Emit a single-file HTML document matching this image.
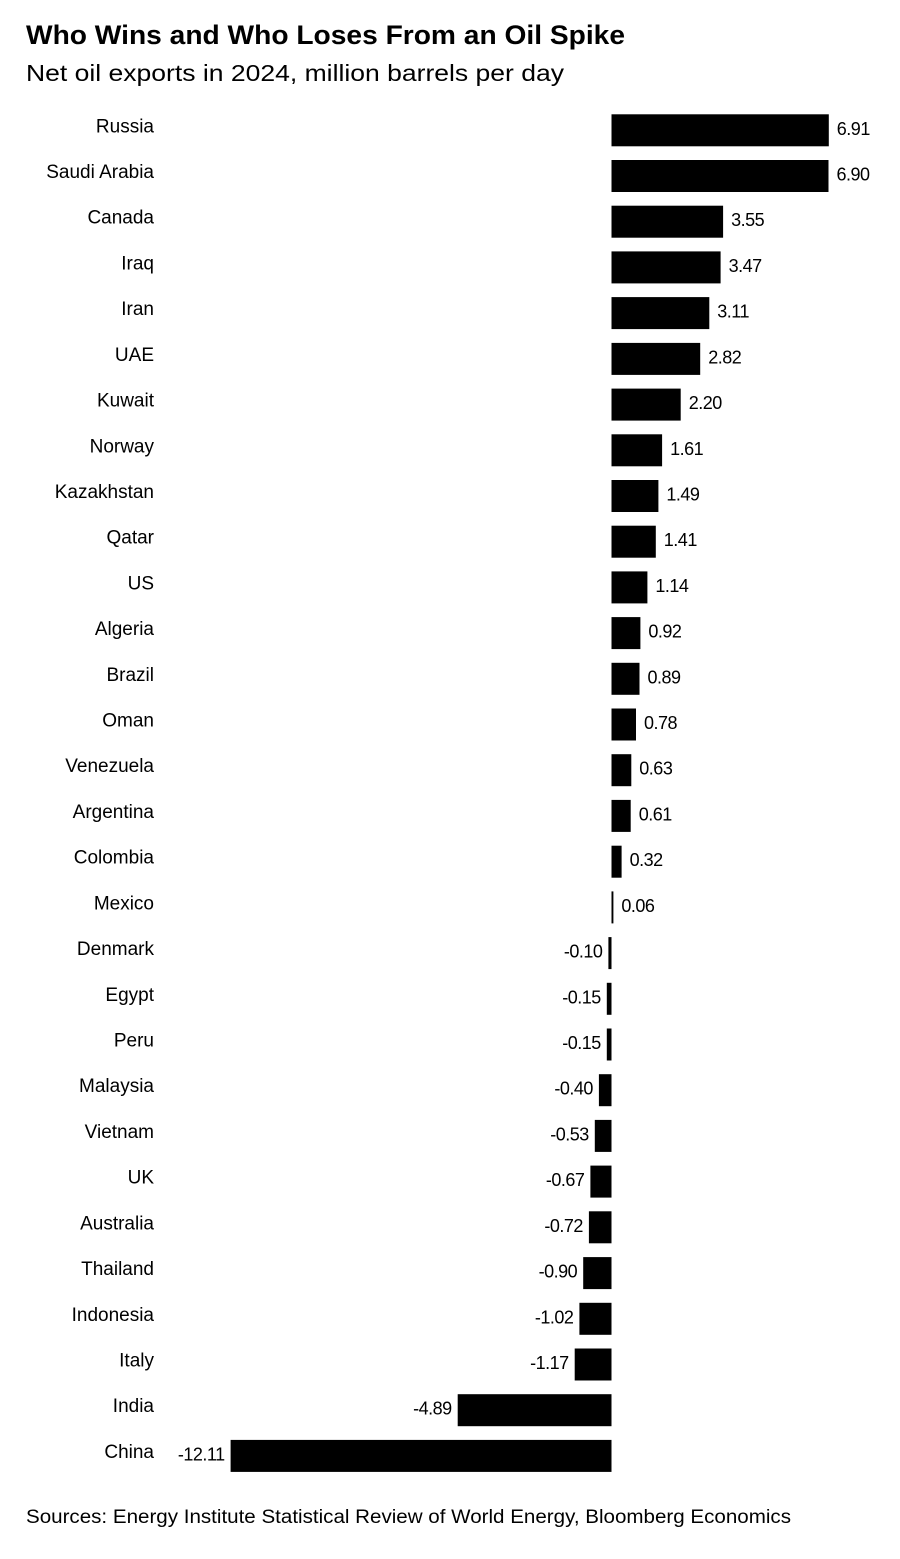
<!DOCTYPE html>
<html><head><meta charset="utf-8"><style>
html,body{margin:0;padding:0;background:#fff;}
svg{display:block;font-family:"Liberation Sans",Arial,sans-serif;}
</style></head><body>
<svg width="900" height="1559" viewBox="0 0 900 1559" xmlns="http://www.w3.org/2000/svg">
<rect width="900" height="1559" fill="#fff"/>
<text x="26" y="44" font-size="27" font-weight="bold" fill="#000" textLength="599" lengthAdjust="spacingAndGlyphs">Who Wins and Who Loses From an Oil Spike</text>
<text x="26" y="81" font-size="23" fill="#000" textLength="538" lengthAdjust="spacingAndGlyphs">Net oil exports in 2024, million barrels per day</text>
<g font-size="18" fill="#000">
<g text-anchor="end" font-size="19">
<text x="154" y="132.3">Russia</text>
<text x="154" y="178.0">Saudi Arabia</text>
<text x="154" y="223.7">Canada</text>
<text x="154" y="269.4">Iraq</text>
<text x="154" y="315.1">Iran</text>
<text x="154" y="360.9">UAE</text>
<text x="154" y="406.6">Kuwait</text>
<text x="154" y="452.3">Norway</text>
<text x="154" y="498.0">Kazakhstan</text>
<text x="154" y="543.7">Qatar</text>
<text x="154" y="589.4">US</text>
<text x="154" y="635.1">Algeria</text>
<text x="154" y="680.8">Brazil</text>
<text x="154" y="726.5">Oman</text>
<text x="154" y="772.2">Venezuela</text>
<text x="154" y="817.9">Argentina</text>
<text x="154" y="863.7">Colombia</text>
<text x="154" y="909.4">Mexico</text>
<text x="154" y="955.1">Denmark</text>
<text x="154" y="1000.8">Egypt</text>
<text x="154" y="1046.5">Peru</text>
<text x="154" y="1092.2">Malaysia</text>
<text x="154" y="1137.9">Vietnam</text>
<text x="154" y="1183.6">UK</text>
<text x="154" y="1229.3">Australia</text>
<text x="154" y="1275.1">Thailand</text>
<text x="154" y="1320.8">Indonesia</text>
<text x="154" y="1366.5">Italy</text>
<text x="154" y="1412.2">India</text>
<text x="154" y="1457.9">China</text>
</g>
<rect x="611.5" y="114.3" width="217.3" height="32"/>
<rect x="611.5" y="160.0" width="217.0" height="32"/>
<rect x="611.5" y="205.7" width="111.6" height="32"/>
<rect x="611.5" y="251.4" width="109.1" height="32"/>
<rect x="611.5" y="297.1" width="97.8" height="32"/>
<rect x="611.5" y="342.9" width="88.7" height="32"/>
<rect x="611.5" y="388.6" width="69.2" height="32"/>
<rect x="611.5" y="434.3" width="50.6" height="32"/>
<rect x="611.5" y="480.0" width="46.9" height="32"/>
<rect x="611.5" y="525.7" width="44.3" height="32"/>
<rect x="611.5" y="571.4" width="35.9" height="32"/>
<rect x="611.5" y="617.1" width="28.9" height="32"/>
<rect x="611.5" y="662.8" width="28.0" height="32"/>
<rect x="611.5" y="708.5" width="24.5" height="32"/>
<rect x="611.5" y="754.2" width="19.8" height="32"/>
<rect x="611.5" y="799.9" width="19.2" height="32"/>
<rect x="611.5" y="845.7" width="10.1" height="32"/>
<rect x="611.5" y="891.4" width="1.9" height="32"/>
<rect x="608.4" y="937.1" width="3.1" height="32"/>
<rect x="606.8" y="982.8" width="4.7" height="32"/>
<rect x="606.8" y="1028.5" width="4.7" height="32"/>
<rect x="598.9" y="1074.2" width="12.6" height="32"/>
<rect x="594.8" y="1119.9" width="16.7" height="32"/>
<rect x="590.4" y="1165.6" width="21.1" height="32"/>
<rect x="588.9" y="1211.3" width="22.6" height="32"/>
<rect x="583.2" y="1257.1" width="28.3" height="32"/>
<rect x="579.4" y="1302.8" width="32.1" height="32"/>
<rect x="574.7" y="1348.5" width="36.8" height="32"/>
<rect x="457.7" y="1394.2" width="153.8" height="32"/>
<rect x="230.6" y="1439.9" width="380.9" height="32"/>
<g letter-spacing="-0.5">
<text x="836.8" y="134.8">6.91</text>
<text x="836.5" y="180.5">6.90</text>
<text x="731.1" y="226.2">3.55</text>
<text x="728.6" y="271.9">3.47</text>
<text x="717.3" y="317.6">3.11</text>
<text x="708.2" y="363.4">2.82</text>
<text x="688.7" y="409.1">2.20</text>
<text x="670.1" y="454.8">1.61</text>
<text x="666.4" y="500.5">1.49</text>
<text x="663.8" y="546.2">1.41</text>
<text x="655.4" y="591.9">1.14</text>
<text x="648.4" y="637.6">0.92</text>
<text x="647.5" y="683.3">0.89</text>
<text x="644.0" y="729.0">0.78</text>
<text x="639.3" y="774.7">0.63</text>
<text x="638.7" y="820.4">0.61</text>
<text x="629.6" y="866.2">0.32</text>
<text x="621.4" y="911.9">0.06</text>
</g>
<g letter-spacing="-0.5" text-anchor="end">
<text x="602.4" y="957.6">-0.10</text>
<text x="600.8" y="1003.3">-0.15</text>
<text x="600.8" y="1049.0">-0.15</text>
<text x="592.9" y="1094.7">-0.40</text>
<text x="588.8" y="1140.4">-0.53</text>
<text x="584.4" y="1186.1">-0.67</text>
<text x="582.9" y="1231.8">-0.72</text>
<text x="577.2" y="1277.6">-0.90</text>
<text x="573.4" y="1323.3">-1.02</text>
<text x="568.7" y="1369.0">-1.17</text>
<text x="451.7" y="1414.7">-4.89</text>
<text x="224.6" y="1460.4">-12.11</text>
</g>
</g>
<text x="26" y="1523" font-size="19" fill="#000" textLength="765" lengthAdjust="spacingAndGlyphs">Sources: Energy Institute Statistical Review of World Energy, Bloomberg Economics</text>
</svg>
</body></html>
